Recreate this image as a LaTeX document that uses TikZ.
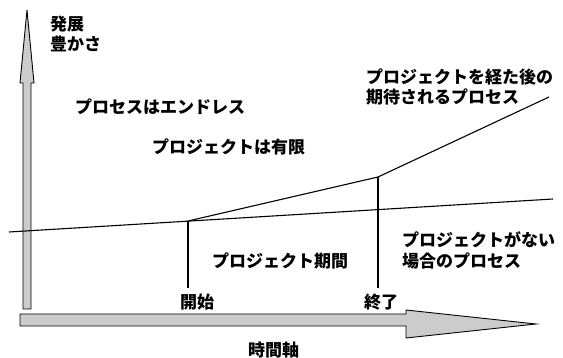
\documentclass[tikz,border=0pt]{standalone}
\usepackage{fontspec}
\setmainfont{Noto Sans CJK JP}
\begin{document}
\begin{tikzpicture}[x=1pt,y=-1pt,
  lbl/.style={anchor=west,inner sep=0pt,font=\fontsize{17}{20}\selectfont\bfseries},
  ln/.style={draw=black,line width=1.1pt},
  bigarrow/.style={draw=black,line width=0.9pt,fill=gray!40}]
\useasboundingbox (0,0) rectangle (563,358);
% axes arrows
\path[bigarrow] (23,309) -- (23,83) -- (20,83) -- (27,10) -- (34,83) -- (31,83) -- (31,309) -- cycle;
\path[bigarrow] (20,314) -- (406,314) -- (406,310) -- (536,324) -- (406,338) -- (406,326) -- (20,326) -- cycle;
% key points
\coordinate (b0) at (9,232);
\coordinate (b1) at (553,199);
\coordinate (s) at (188,221);
\coordinate (e) at (378,177);
\coordinate (u) at (549,97);
\coordinate (sb) at (188,288);
\coordinate (eb) at (378,288);
\draw[ln] (b0) -- (b1);
\draw[ln] (s) -- (e) -- (u);
\draw[ln] (s) -- (sb);
\draw[ln] (e) -- (eb);
% labels
\node[lbl] (t1) at (50,24) {発展};
\node[lbl] (t2) at (50,44) {豊かさ};
\node[lbl] (t3) at (75,107) {プロセスはエンドレス};
\node[lbl] (t4) at (152,147) {プロジェクトは有限};
\node[lbl] (t5) at (366,77) {プロジェクトを経た後の};
\node[lbl] (t6) at (366,97) {期待されるプロセス};
\node[lbl] (t7) at (402,240) {プロジェクトがない};
\node[lbl] (t8) at (402,261) {場合のプロセス};
\node[lbl] (t9) at (212,261) {プロジェクト期間};
\node[lbl] (t10) at (180,302) {開始};
\node[lbl] (t11) at (364,302) {終了};
\node[lbl] (t12) at (248,350) {時間軸};
\end{tikzpicture}
\end{document}
